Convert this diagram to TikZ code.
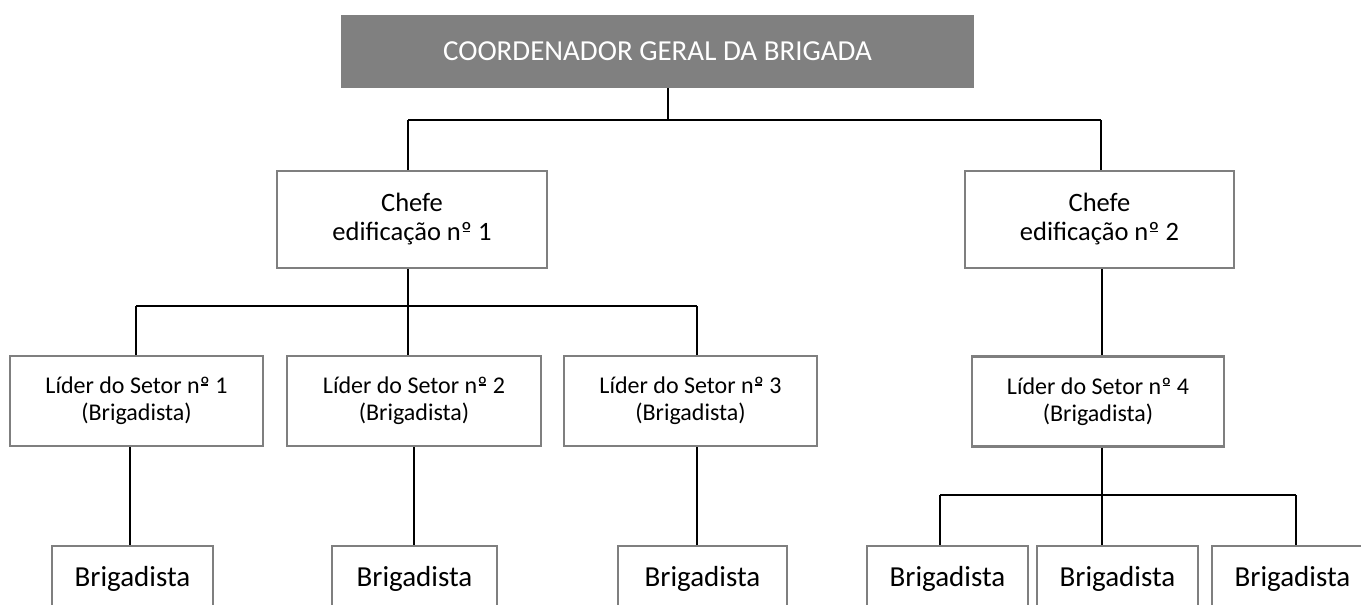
\documentclass[tikz,border=0pt]{standalone}
\usepackage{fontspec}
\setmainfont{Carlito}
\newcommand\nordo{\ooalign{º\cr\hidewidth\rule[0.34em]{0.3em}{0.055em}\hidewidth\cr}}
\begin{document}
\begin{tikzpicture}[x=1pt,y=-1pt,
  box/.style={draw=boxgray,line width=2.2pt,fill=white,rectangle,inner sep=0pt,align=center,text=black},
  lbl/.style={box,minimum height=90pt,font=\fontsize{24}{27}\selectfont},
  chefebox/.style={box,minimum height=97pt,font=\fontsize{26.5}{29}\selectfont},
  brig/.style={box,minimum width=161pt,minimum height=66pt,font=\fontsize{29}{32}\selectfont},
  conn/.style={draw=black,line width=1.3pt}]
\definecolor{boxgray}{HTML}{7F7F7F}
\definecolor{topgray}{HTML}{808080}
\useasboundingbox (0,0) rectangle (1361,605);
\clip (0,0) rectangle (1361,605);
\fill[white] (0,0) rectangle (1361,605);
% top
\node[rectangle,fill=topgray,minimum width=633pt,minimum height=73pt,inner sep=0pt,text=white,font=\fontsize{29}{32}\selectfont] (top) at (657.5,51.5) {COORDENADOR GERAL DA BRIGADA};
% chefes
\node[chefebox,minimum width=270pt] (c1) at (412,219.5) {Chefe\\edificação n\nordo{} 1};
\node[chefebox,minimum width=269pt] (c2) at (1099.5,219.5) {Chefe\\edificação n\nordo{} 2};
% lideres
\node[lbl,minimum width=253pt] (l1) at (136.5,401) {Líder do Setor n\nordo{} 1\\(Brigadista)};
\node[lbl,minimum width=254pt] (l2) at (414,401) {Líder do Setor n\nordo{} 2\\(Brigadista)};
\node[lbl,minimum width=253pt] (l3) at (690.5,401) {Líder do Setor n\nordo{} 3\\(Brigadista)};
\node[lbl,minimum width=252pt] (l4) at (1098,401.5) {Líder do Setor n\nordo{} 4\\(Brigadista)};
% brigadistas
\node[brig] (b1) at (132.5,579) {Brigadista};
\node[brig,minimum width=165pt] (b2) at (414.5,579) {Brigadista};
\node[brig,minimum width=169pt] (b3) at (702.5,579) {Brigadista};
\node[brig] (b4) at (947.5,579) {Brigadista};
\node[brig] (b5) at (1117.5,579) {Brigadista};
\node[brig] (b6) at (1292.5,579) {Brigadista};
% junctions
\coordinate (j0) at (668,120);
\coordinate (jL) at (408,120);
\coordinate (jR) at (1101,120);
\coordinate (k0) at (408,306);
\coordinate (k1) at (136,306);
\coordinate (k3) at (697,306);
\coordinate (m0) at (1102,495);
\coordinate (m1) at (940,495);
\coordinate (m3) at (1296,495);
% connectors
\draw[conn] (top.south -| j0) -- (j0);
\draw[conn] (jL) -- (jR);
\draw[conn] (jL) -- (c1.north -| jL);
\draw[conn] (jR) -- (c2.north -| jR);
\draw[conn] (c1.south -| k0) -- (k0);
\draw[conn] (k1) -- (k3);
\draw[conn] (k1) -- (l1.north -| k1);
\draw[conn] (k0) -- (l2.north -| k0);
\draw[conn] (k3) -- (l3.north -| k3);
\coordinate (v1) at (130,0);
\coordinate (v2) at (414,0);
\coordinate (v3) at (697,0);
\draw[conn] (l1.south -| v1) -- (b1.north -| v1);
\draw[conn] (l2.south -| v2) -- (b2.north -| v2);
\draw[conn] (l3.south -| v3) -- (b3.north -| v3);
\draw[conn] (c2.south -| m0) -- (l4.north -| m0);
\draw[conn] (l4.south -| m0) -- (m0);
\draw[conn] (m1) -- (m3);
\draw[conn] (m1) -- (b4.north -| m1);
\draw[conn] (m0) -- (b5.north -| m0);
\draw[conn] (m3) -- (b6.north -| m3);
\end{tikzpicture}
\end{document}
